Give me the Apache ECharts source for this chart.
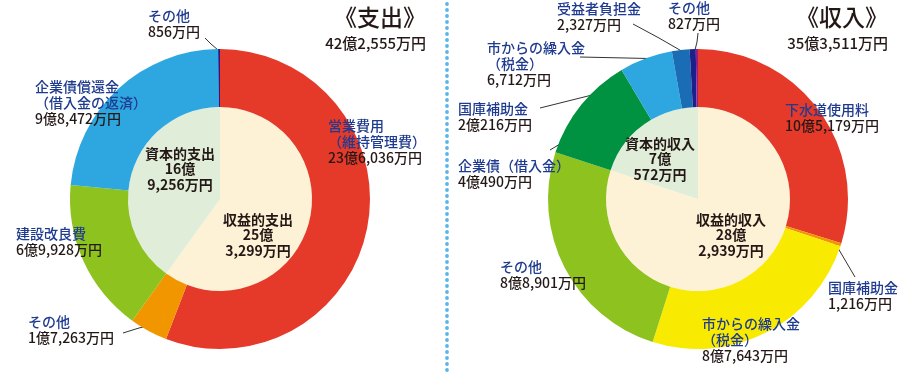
<!DOCTYPE html>
<html><head><meta charset="utf-8">
<script src="https://cdn.jsdelivr.net/npm/echarts@6/dist/echarts.min.js"></script>
<style>html,body{margin:0;padding:0;background:#fff}#c{width:900px;height:373px}</style>
</head><body><div id="c"></div>
<script>
// ---- data ----
const outTitle = '《支出》';
const outTotal = '42億2,555万円';
const outOuterNames = ['営業費用\n（維持管理費）', 'その他', '建設改良費', '企業債償還金\n（借入金の返済）', 'その他'];
const outOuterValues = [236036, 17263, 69928, 98472, 856];
const outInnerNames = ['収益的支出', '資本的支出'];
const outInnerValues = [253299, 169256];

const inTitle = '《収入》';
const inTotal = '35億3,511万円';
const inOuterNames = ['下水道使用料', '国庫補助金', '市からの繰入金\n（税金）', 'その他', '企業債（借入金）', '国庫補助金', '市からの繰入金\n（税金）', '受益者負担金', 'その他'];
const inOuterValues = [105179, 1216, 87643, 88901, 40490, 20216, 6712, 2327, 827];
const inInnerNames = ['収益的収入', '資本的収入'];
const inInnerValues = [282939, 70572];

// ---- formatting ----
function fmtMan(v) {
  const oku = Math.floor(v / 10000), man = v % 10000;
  const manStr = man.toLocaleString('en-US');
  if (oku > 0) return oku + '億' + (man > 0 ? manStr + '万円' : '円');
  return manStr + '万円';
}
function fmtInner(v) {
  const oku = Math.floor(v / 10000), man = v % 10000;
  return oku + '億\n' + man.toLocaleString('en-US') + '万円';
}

// ---- styles / layout ----
const FONT = '"Noto Sans CJK JP", "Noto Sans", sans-serif';
const outOuterColors = ['#e5392a', '#f29600', '#8dc21f', '#2ea7e0', '#1d2088'];
const inOuterColors = ['#e5392a', '#f29600', '#f8ea00', '#8dc21f', '#009240', '#2ea7e0', '#1a6db5', '#1d2088', '#8f1f8a'];
const innerColors = ['#fdf1d6', '#e0eed9'];

const outOuterLayout = [
  {x: 328, y: 118},
  {x: 28, y: 314, line: [[155, 324], [139, 328], [123, 333]]},
  {x: 16, y: 226},
  {x: 35, y: 79},
  {x: 148, y: 8, line: [[218, 50], [211, 44], [205, 38]]}
];
const inOuterLayout = [
  {x: 785, y: 102},
  {x: 828, y: 280, line: [[835, 243], [845, 260], [855, 277]]},
  {x: 702, y: 316},
  {x: 500, y: 259},
  {x: 458, y: 158, line: [[580, 132], [565, 141], [550, 150]]},
  {x: 458, y: 101, line: [[645, 83], [592, 95], [540, 108]]},
  {x: 487, y: 40, line: [[672, 59], [626, 58], [580, 57]]},
  {x: 557, y: 1, line: [[685, 53], [659, 38], [633, 24]]},
  {x: 668, y: 0, line: [[695, 50], [697, 42], [698, 33]]}
];
const outInnerLayout = [{x: 258, y: 235}, {x: 180, y: 169}];
const inInnerLayout = [{x: 731, y: 235}, {x: 660, y: 159}];

function outerSeries(center, names, values, colors, layout) {
  return {
    type: 'pie', radius: [92, 150], center: center, startAngle: 90, clockwise: true,
    silent: true, animation: false, avoidLabelOverlap: false,
    data: values.map((v, i) => ({
      name: names[i], value: v, itemStyle: {color: colors[i]},
      labelLine: {show: !!layout[i].line}
    })),
    label: {
      show: true, position: 'outer', overflow: 'none', alignTo: 'none',
      formatter: p => '{n|' + p.name.split('\n').join('}\n{n|') + '}\n{v|' + fmtMan(p.value) + '}',
      rich: {
        n: {color: '#1f3b8f', fontSize: 14, fontWeight: 500, fontFamily: FONT, lineHeight: 16},
        v: {color: '#231815', fontSize: 14, fontWeight: 500, fontFamily: FONT, lineHeight: 16}
      }
    },
    labelLine: {show: true, lineStyle: {color: '#333', width: 1}},
    labelLayout: function (p) {
      const L = layout[p.dataIndex];
      const r = {x: L.x, y: L.y, align: 'left', verticalAlign: 'top', hideOverlap: false, moveOverlap: false};
      if (L.line) r.labelLinePoints = L.line;
      return r;
    }
  };
}
function innerSeries(center, names, values, layout) {
  return {
    type: 'pie', radius: [0, 92], center: center, startAngle: 90, clockwise: true,
    silent: true, animation: false,
    data: values.map((v, i) => ({name: names[i], value: v, itemStyle: {color: innerColors[i]}})),
    label: {
      show: true, position: 'inside', overflow: 'none',
      formatter: p => '{b|' + p.name + '}\n{b|' + fmtInner(p.value).split('\n').join('}\n{b|') + '}',
      rich: {b: {color: '#231815', fontSize: 14, fontWeight: 'bold', fontFamily: FONT, lineHeight: 15.5, align: 'center'}}
    },
    labelLine: {show: false},
    labelLayout: function (p) {
      const L = layout[p.dataIndex];
      return {x: L.x, y: L.y, align: 'center', verticalAlign: 'middle'};
    }
  };
}

// dotted separator
const dots = [];
for (let y = 4; y <= 370; y += 6) dots.push({type: 'circle', shape: {cx: 447, cy: y, r: 1.9}, style: {fill: '#5ab4e5'}, silent: true});

const chart = echarts.init(document.getElementById('c'), null, {renderer: 'canvas'});
chart.setOption({
  backgroundColor: '#ffffff',
  animation: false,
  graphic: [
    {type: 'text', right: 900 - 426, top: 6, style: {text: outTitle, font: '500 23px ' + FONT, fill: '#231815'}},
    {type: 'text', right: 900 - 426, top: 36, style: {text: outTotal, font: '500 15px ' + FONT, fill: '#231815'}},
    {type: 'text', right: 900 - 888, top: 6, style: {text: inTitle, font: '500 23px ' + FONT, fill: '#231815'}},
    {type: 'text', right: 900 - 888, top: 36, style: {text: inTotal, font: '500 15px ' + FONT, fill: '#231815'}}
  ].concat(dots),
  series: [
    innerSeries([220, 199], outInnerNames, outInnerValues, outInnerLayout),
    outerSeries([220, 199], outOuterNames, outOuterValues, outOuterColors, outOuterLayout),
    innerSeries([698, 199], inInnerNames, inInnerValues, inInnerLayout),
    outerSeries([698, 199], inOuterNames, inOuterValues, inOuterColors, inOuterLayout)
  ]
});
</script>
</body></html>
